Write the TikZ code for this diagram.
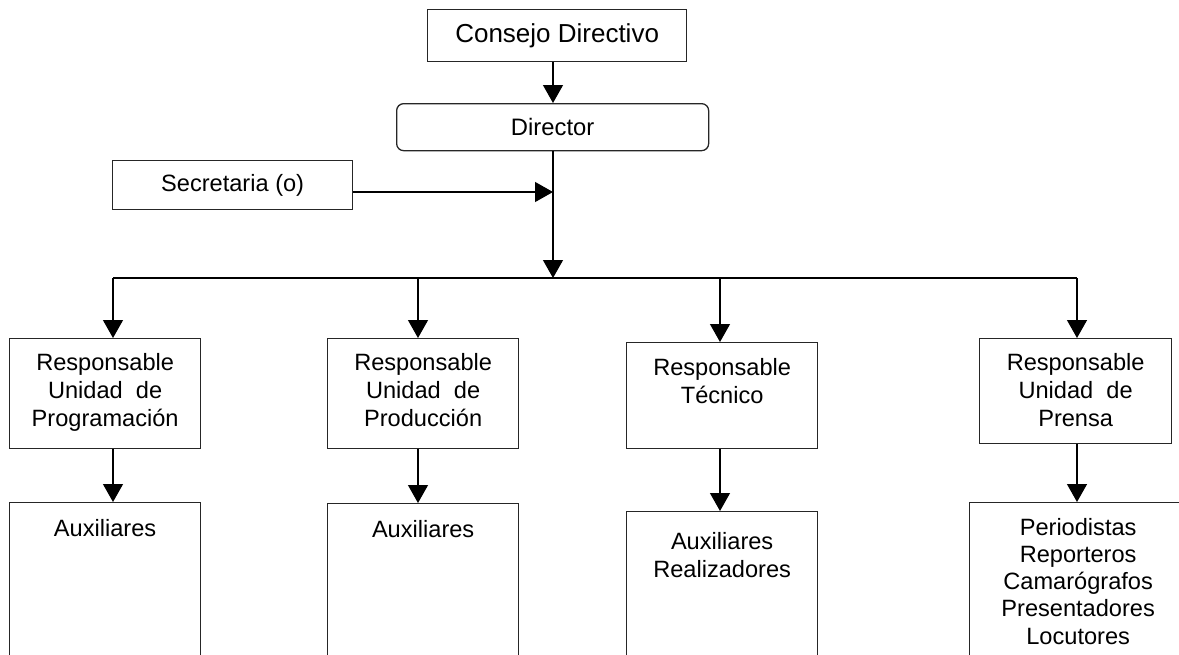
\documentclass[tikz,border=0pt]{standalone}
\usepackage{fontspec}
\setmainfont{Liberation Sans}
\usetikzlibrary{arrows.meta}
\begin{document}
\begin{tikzpicture}[x=1pt,y=-1pt,
  box/.style={draw=black!85, line width=1.3pt, rectangle, inner sep=0pt, anchor=north west},
  lbl/.style={inner sep=0pt, align=center, font=\fontsize{23.6}{28.3}\selectfont, anchor=north},
  arr/.style={draw=black, line width=1.3pt, -{Triangle[length=18pt,width=20pt]}},
  ln/.style={draw=black, line width=1.3pt}]
\useasboundingbox (0,0) rectangle (1179,654);
% top boxes
\node[box, minimum width=259pt, minimum height=52pt, font=\fontsize{26}{31}\selectfont] (cd) at (427,9) {Consejo Directivo};
\node[box, rounded corners=7pt, minimum width=312pt, minimum height=47pt, font=\fontsize{23.8}{28.5}\selectfont] (dir) at (396,103) {Director};
\node[box, minimum width=240pt, minimum height=49pt, font=\fontsize{23.6}{28.3}\selectfont] (sec) at (112,160) {Secretaria (o)};
% middle boxes
\node[box, minimum width=191pt, minimum height=110pt] (A) at (9,338) {};
\node[box, minimum width=191pt, minimum height=110pt] (B) at (327,338) {};
\node[box, minimum width=191pt, minimum height=106pt] (C) at (626,342) {};
\node[box, minimum width=192pt, minimum height=105pt] (D) at (979,338) {};
\node[lbl] (tA) at ([yshift=-15pt]A.north) {Responsable\\Unidad~ de\\Programación};
\node[lbl] (tB) at ([yshift=-15pt]B.north) {Responsable\\Unidad~ de\\Producción};
\node[lbl] (tC) at ([yshift=-16pt]C.north) {Responsable\\Técnico};
\node[lbl] (tD) at ([yshift=-15pt]D.north) {Responsable\\Unidad~ de\\Prensa};
% bottom boxes
\node[box, minimum width=191pt, minimum height=156pt] (A2) at (9,502) {};
\node[box, minimum width=191pt, minimum height=155pt] (B2) at (327,503) {};
\node[box, minimum width=191pt, minimum height=147pt] (C2) at (626,511) {};
\node[box, minimum width=217pt, minimum height=156pt] (D2) at (969,502) {};
\node[lbl] (tA2) at ([yshift=-17pt]A2.north) {Auxiliares};
\node[lbl] (tB2) at ([yshift=-17pt]B2.north) {Auxiliares};
\node[lbl] (tC2) at ([yshift=-21pt]C2.north) {Auxiliares\\Realizadores};
\node[lbl, font=\fontsize{23.6}{27.2}\selectfont] (tD2) at ([yshift=-16pt]D2.north) {Periodistas\\Reporteros\\Camarógrafos\\Presentadores\\Locutores};
% coordinates
\coordinate (x0) at (553,0);
\coordinate (sj) at (553,192);
\coordinate (hl) at (553,278);
\coordinate (bA) at (113,278);
\coordinate (bB) at (418,278);
\coordinate (bC) at (720,278);
\coordinate (bD) at (1077,278);
% connectors
\draw[arr] (cd.south -| x0) -- (dir.north -| x0);
\draw[arr] (dir.south -| x0) -- (hl);
\draw[arr] (sec.east |- sj) -- (sj);
\draw[ln] (bA) -- (bD);
\foreach \b/\m/\n in {bA/A/A2, bB/B/B2, bC/C/C2, bD/D/D2}{
  \draw[arr] (\b) -- (\b |- \m.north);
  \draw[arr] (\m.south -| \b) -- (\n.north -| \b);
}
\end{tikzpicture}
\end{document}
